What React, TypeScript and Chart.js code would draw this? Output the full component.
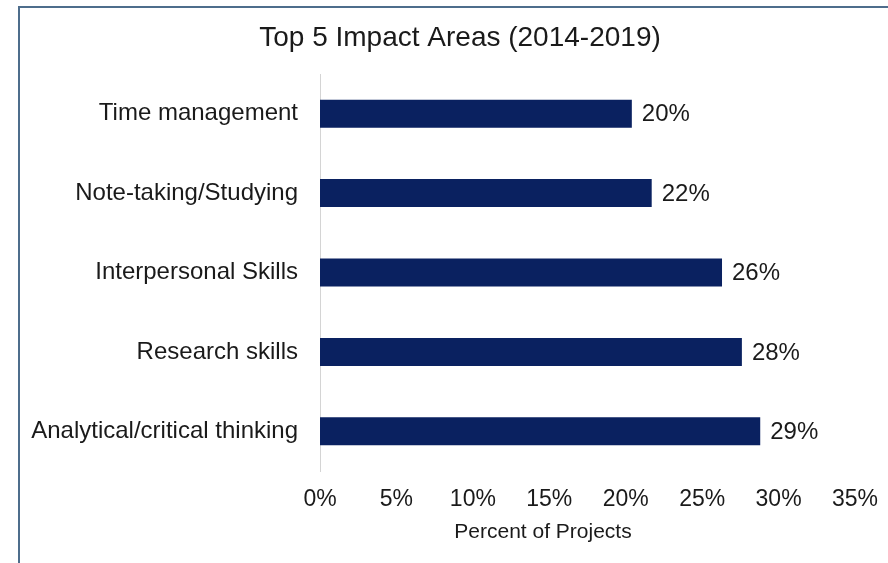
import React, { useEffect, useRef } from "react";
import { Chart, registerables } from "chart.js";

Chart.register(...registerables);

const categories = [
  "Time management",
  "Note-taking/Studying",
  "Interpersonal Skills",
  "Research skills",
  "Analytical/critical thinking",
];
const percentValues = [20.4, 21.7, 26.3, 27.6, 28.8];
const xTickMax = 35;
const xTickStep = 5;
const chartTitle = "Top 5 Impact Areas (2014-2019)";
const xAxisTitle = "Percent of Projects";

const FONT = "'Liberation Sans', Arial, sans-serif";
const BAR_COLOR = "#0a2160";
const TEXT_COLOR = "#1a1a1a";

const dataLabelPlugin = {
  id: "barValueLabels",
  afterDatasetsDraw(chart: any) {
    const ctx = chart.ctx;
    const meta = chart.getDatasetMeta(0);
    ctx.save();
    ctx.font = `24px ${FONT}`;
    ctx.fillStyle = TEXT_COLOR;
    ctx.textAlign = "left";
    ctx.textBaseline = "middle";
    meta.data.forEach((bar: any, i: number) => {
      const v = chart.data.datasets[0].data[i];
      ctx.fillText(`${Math.round(v)}%`, bar.x + 10, bar.y + 1);
    });
    ctx.restore();
  },
};

const titlesPlugin = {
  id: "excelTitles",
  afterDraw(chart: any) {
    const ctx = chart.ctx;
    ctx.save();
    ctx.fillStyle = TEXT_COLOR;
    ctx.textAlign = "center";
    ctx.textBaseline = "middle";
    ctx.font = `28px ${FONT}`;
    ctx.fillText(chartTitle, 460, 38);
    ctx.font = `21px ${FONT}`;
    ctx.fillText(xAxisTitle, 543, 532);
    ctx.restore();
  },
};

export default function App() {
  const canvasRef = useRef<HTMLCanvasElement | null>(null);

  useEffect(() => {
    if (!canvasRef.current) return;
    const chart = new Chart(canvasRef.current, {
      type: "bar",
      data: {
        labels: categories,
        datasets: [
          {
            data: percentValues,
            backgroundColor: BAR_COLOR,
            borderWidth: 0,
            barPercentage: 0.353,
            categoryPercentage: 1,
          },
        ],
      },
      options: {
        indexAxis: "y",
        responsive: false,
        animation: false,
        devicePixelRatio: 1,
        layout: { padding: { left: 20, right: 33, top: 74, bottom: 0 } },
        plugins: {
          legend: { display: false },
          tooltip: { enabled: false },
          title: { display: false },
        },
        scales: {
          x: {
            min: 0,
            max: xTickMax,
            grid: { display: false, drawTicks: false },
            border: { display: false },
            ticks: {
              stepSize: xTickStep,
              padding: 15,
              color: TEXT_COLOR,
              font: { family: FONT, size: 23 },
              callback: (v: any) => `${v}%`,
            },
            afterFit: (scale: any) => {
              scale.height = 92;
              scale.paddingLeft = 0;
              scale.paddingRight = 0;
            },
          },
          y: {
            grid: { display: false, drawTicks: false },
            border: { display: true, color: "#d4d4d4", width: 1 },
            ticks: {
              padding: 22,
              color: TEXT_COLOR,
              font: { family: FONT, size: 24 },
            },
            afterFit: (scale: any) => {
              scale.width = 300;
            },
          },
        },
      },
      plugins: [dataLabelPlugin, titlesPlugin],
    });
    return () => chart.destroy();
  }, []);

  return (
    <div
      style={{
        position: "fixed",
        left: 0,
        top: 0,
        width: 888,
        height: 563,
        overflow: "hidden",
        background: "#fff",
      }}
    >
      <div
        style={{
          position: "absolute",
          left: 18,
          top: 6,
          width: 1000,
          height: 1000,
          borderLeft: "2px solid #4e6d8c",
          borderTop: "2px solid #4e6d8c",
          boxSizing: "border-box",
        }}
      />
      <canvas
        ref={canvasRef}
        width={888}
        height={563}
        style={{ position: "absolute", left: 0, top: 0, width: 888, height: 563 }}
      />
    </div>
  );
}
